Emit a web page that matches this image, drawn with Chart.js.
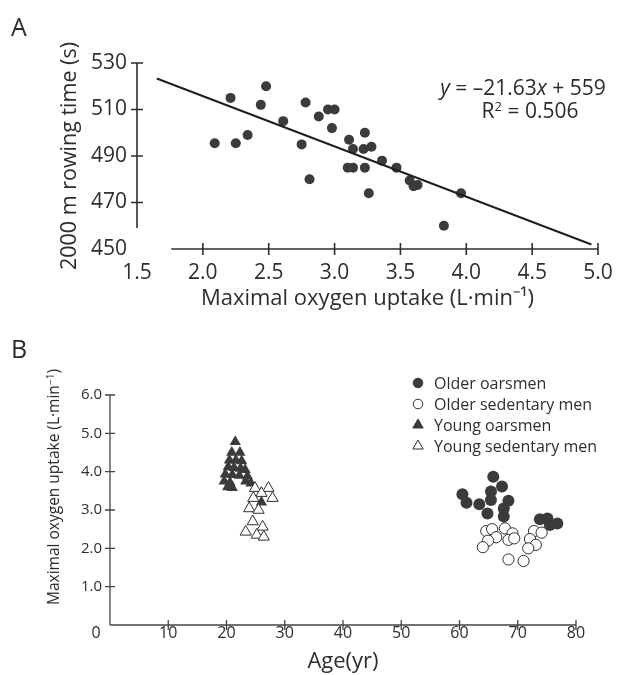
<!DOCTYPE html>
<html>
<head>
<meta charset="utf-8">
<script src="https://cdn.jsdelivr.net/npm/chart.js@4.4.1/dist/chart.umd.min.js"></script>
<style>
  html, body { margin: 0; padding: 0; background: #fff; }
  #page { position: relative; width: 625px; height: 675px; overflow: hidden;
          font-family: 'Open Sans', sans-serif; color: #2b2b2b; }
  canvas { position: absolute; left: 0; }
  #cA { top: 0; }
  #cB { top: 330px; }
  .panel { position: absolute; font-size: 25px; line-height: 1; }
  .eq { position: absolute; font-size: 21px; line-height: 1; white-space: nowrap; text-align: center; width: 240px; }
  .eq sup { font-size: 0.62em; vertical-align: 0.55em; line-height: 0; }
  .ytitle { position: absolute; width: 260px; height: 20px; line-height: 20px; text-align: center;
            font-size: 15.5px; white-space: nowrap; transform: rotate(-90deg); transform-origin: 50% 50%; }
  .ytitle sup { font-size: 0.65em; vertical-align: 0.5em; line-height: 0; }
</style>
</head>
<body>
<div id="page">
  <canvas id="cA" width="625" height="330"></canvas>
  <canvas id="cB" width="625" height="345"></canvas>
  <div class="panel" style="left:11px;top:14px">A</div>
  <div class="panel" style="left:11px;top:336px">B</div>
  <div class="eq" style="left:403px;top:77px"><i>y</i> = –21.63<i>x</i> + 559</div>
  <div class="eq" style="left:410px;top:100px">R<sup>2</sup> = 0.506</div>
  <div class="ytitle" style="left:-77px;top:477px">Maximal oxygen uptake (L·min<sup>−1</sup>)</div>
</div>
<script>
// ---- Panel A: maximal oxygen uptake vs 2000 m rowing time ----
const vo2max  = [2.09, 2.25, 2.34, 2.21, 2.48, 2.44, 2.61, 2.75, 2.81, 2.78, 2.88, 2.95, 3.00, 2.98, 3.11,
                 3.14, 3.23, 3.22, 3.28, 3.10, 3.14, 3.23, 3.26, 3.36, 3.47, 3.57, 3.60, 3.63, 3.96, 3.83];
const rowTime = [495.5, 495.5, 499, 515, 520, 512, 505, 495, 480, 513, 507, 510, 510, 502, 497,
                 493, 500, 493, 494, 485, 485, 485, 474, 488, 485, 479.5, 477, 477.5, 474, 460];
// fitted line y = -21.63x + 559
const fitSlope = -21.63;
const fitIntercept = 559;
const fitSpan = [1.65, 4.95];
const xTicksA = [2.0, 2.5, 3.0, 3.5, 4.0, 4.5, 5.0];
const yTicksA = [470, 490, 510, 530];

// ---- Panel B: maximal oxygen uptake vs age ----
const ageOlderOar = [60.5, 61.2, 63.4, 64.8, 65.8, 67.3, 65.4, 65.4, 68.4, 67.6, 67.6, 73.8, 75.1, 76.8, 75.5];
const vo2OlderOar = [3.41, 3.19, 3.15, 2.91, 3.87, 3.61, 3.48, 3.26, 3.24, 3.04, 2.83, 2.76, 2.78, 2.65, 2.61];
const ageOlderSed = [64.6, 65.6, 66.3, 64.9, 64.0, 67.8, 69.1, 68.4, 69.4, 68.4, 71.0, 72.8, 74.1, 72.1, 73.1, 71.8];
const vo2OlderSed = [2.45, 2.50, 2.29, 2.20, 2.03, 2.52, 2.39, 2.22, 2.26, 1.71, 1.67, 2.45, 2.41, 2.24, 2.09, 2.00];
const ageYoungOar = [21.5, 20.9, 22.3, 20.5, 21.6, 22.6, 20.3, 21.3, 22.4, 23.2, 19.8, 21.0, 22.2, 23.6,
                     19.6, 20.6, 23.3, 24.2, 20.2, 21.0, 26.0];
const vo2YoungOar = [4.78, 4.50, 4.50, 4.30, 4.30, 4.28, 4.12, 4.10, 4.08, 4.05, 3.93, 3.92, 3.90, 3.88,
                     3.75, 3.72, 3.75, 3.70, 3.60, 3.58, 3.20];
const ageYoungSed = [24.9, 27.2, 26.0, 27.9, 24.6, 23.9, 25.5, 24.5, 26.2, 23.3, 25.2, 26.4];
const vo2YoungSed = [3.57, 3.57, 3.44, 3.31, 3.31, 3.04, 3.00, 2.70, 2.56, 2.43, 2.35, 2.30];
const seriesNamesB = ['Older oarsmen', 'Older sedentary men', 'Young oarsmen', 'Young sedentary men'];
const xTicksB = [10, 20, 30, 40, 50, 60, 70, 80];
const yTicksB = [1, 2, 3, 4, 5, 6];

const INK = '#2e2e2e';
const DOT = '#3b3b3b';
Chart.defaults.font.family = "'Open Sans', sans-serif";
Chart.defaults.color = INK;

const pts = (xs, ys) => xs.map((v, i) => ({ x: v, y: ys[i] }));

// Detached axis lines with tick marks crossing the line
const axisDecor = {
  id: 'axisDecor',
  beforeDatasetsDraw(chart, args, o) {
    const { ctx, scales: { x, y } } = chart;
    const x0 = x.getPixelForValue(o.yAxisAt);
    const y0 = y.getPixelForValue(o.xAxisAt);
    ctx.save();
    ctx.strokeStyle = o.color;
    ctx.lineWidth = o.width;
    ctx.beginPath();
    ctx.moveTo(x0, y.getPixelForValue(o.yLine[0]));
    ctx.lineTo(x0, y.getPixelForValue(o.yLine[1]));
    ctx.moveTo(x.getPixelForValue(o.xLine[0]), y0);
    ctx.lineTo(x.getPixelForValue(o.xLine[1]), y0);
    o.yTicks.forEach(v => { const p = y.getPixelForValue(v); ctx.moveTo(x0 - o.tick, p); ctx.lineTo(x0 + o.tick, p); });
    o.xTicks.forEach(v => { const p = x.getPixelForValue(v); ctx.moveTo(p, y0 - o.tick); ctx.lineTo(p, y0 + o.tick); });
    ctx.stroke();
    if (o.originLabel) {
      ctx.fillStyle = INK;
      ctx.font = o.originLabel.font;
      ctx.textAlign = 'center';
      ctx.textBaseline = 'middle';
      ctx.fillText(o.originLabel.text, x0 + o.originLabel.dx, y0 + o.originLabel.dy);
    }
    ctx.restore();
  }
};

// Legend listing marker shapes beside the series names
function marker(ctx, style, filled, r, cx, cy) {
  ctx.beginPath();
  if (style === 'circle') {
    ctx.arc(cx, cy, r, 0, Math.PI * 2);
  } else {
    for (let k = 0; k < 3; k++) {
      const a = k * 2 * Math.PI / 3;
      const px = cx + Math.sin(a) * r, py = cy - Math.cos(a) * r;
      k ? ctx.lineTo(px, py) : ctx.moveTo(px, py);
    }
    ctx.closePath();
  }
  ctx.fillStyle = filled ? DOT : '#fff';
  ctx.fill();
  ctx.lineWidth = 1;
  ctx.strokeStyle = filled ? DOT : INK;
  ctx.stroke();
}
const sideLegend = {
  id: 'sideLegend',
  afterDraw(chart, args, o) {
    const ctx = chart.ctx;
    ctx.save();
    ctx.font = o.font;
    ctx.textBaseline = 'middle';
    ctx.textAlign = 'left';
    o.items.forEach((it, i) => {
      const cy = o.top + i * o.gap;
      marker(ctx, it.style, it.filled, it.style === 'circle' ? 4.8 : 6, o.left, cy);
      ctx.fillStyle = INK;
      ctx.fillText(it.label, o.left + 16, cy + 1);
    });
    ctx.restore();
  }
};

// ---------- Chart A ----------
new Chart(document.getElementById('cA'), {
  type: 'scatter',
  data: {
    datasets: [
      {
        data: pts(fitSpan, fitSpan.map(v => fitSlope * v + fitIntercept)),
        showLine: true, borderColor: '#1f1f1f', borderWidth: 2, pointRadius: 0, order: 0
      },
      {
        data: pts(vo2max, rowTime),
        backgroundColor: DOT, borderColor: DOT, borderWidth: 0, pointRadius: 5, order: 1
      }
    ]
  },
  options: {
    responsive: false, animation: false,
    layout: { padding: { left: 57, right: 27, top: 63, bottom: 18 } },
    plugins: {
      legend: { display: false }, tooltip: { enabled: false },
      axisDecor: { color: INK, width: 1.6, tick: 6, yAxisAt: 1.5, xAxisAt: 450,
                   yLine: [459, 530], xLine: [1.76, 5.0], xTicks: xTicksA, yTicks: yTicksA }
    },
    scales: {
      x: {
        type: 'linear', min: 1.5, max: 5.0,
        grid: { display: false, drawTicks: false }, border: { display: false },
        ticks: { stepSize: 0.5, padding: 11, font: { size: 21 }, callback: v => Number(v).toFixed(1) },
        title: { display: true, text: 'Maximal oxygen uptake (L·min⁻¹)', font: { size: 22 }, padding: 0 },
        afterFit: s => { s.height = 63; }
      },
      y: {
        min: 450, max: 530,
        grid: { display: false, drawTicks: false }, border: { display: false },
        ticks: { stepSize: 20, padding: 10, font: { size: 21 } },
        title: { display: true, text: '2000 m rowing time (s)', font: { size: 21.5 }, padding: 0 },
        afterFit: s => { s.width = 80; }
      }
    }
  },
  plugins: [axisDecor]
});

// ---------- Chart B ----------
new Chart(document.getElementById('cB'), {
  type: 'scatter',
  data: {
    datasets: [
      { label: seriesNamesB[1], data: pts(ageOlderSed, vo2OlderSed), pointStyle: 'circle',
        pointRadius: 5.6, backgroundColor: '#fff', borderColor: INK, borderWidth: 1, order: 1 },
      { label: seriesNamesB[3], data: pts(ageYoungSed, vo2YoungSed), pointStyle: 'triangle',
        pointRadius: 6.5, backgroundColor: '#fff', borderColor: INK, borderWidth: 1, order: 1 },
      { label: seriesNamesB[0], data: pts(ageOlderOar, vo2OlderOar), pointStyle: 'circle',
        pointRadius: 6, backgroundColor: DOT, borderColor: DOT, borderWidth: 0, order: 2 },
      { label: seriesNamesB[2], data: pts(ageYoungOar, vo2YoungOar), pointStyle: 'triangle',
        pointRadius: 6.5, backgroundColor: DOT, borderColor: DOT, borderWidth: 0, order: 2 }
    ]
  },
  options: {
    responsive: false, animation: false,
    layout: { padding: { left: 44, right: 49, top: 65, bottom: 0 } },
    plugins: {
      legend: { display: false }, tooltip: { enabled: false },
      axisDecor: { color: '#444', width: 1.3, tick: 5, yAxisAt: 0, xAxisAt: 0,
                   yLine: [0, 6], xLine: [0, 80], xTicks: xTicksB, yTicks: yTicksB,
                   originLabel: { text: '0', font: "16px 'Open Sans'", dx: -14, dy: 8 } },
      sideLegend: {
        left: 418, top: 53, gap: 21, font: "16px 'Open Sans'",
        items: [
          { label: seriesNamesB[0], style: 'circle', filled: true },
          { label: seriesNamesB[1], style: 'circle', filled: false },
          { label: seriesNamesB[2], style: 'triangle', filled: true },
          { label: seriesNamesB[3], style: 'triangle', filled: false }
        ]
      }
    },
    scales: {
      x: {
        type: 'linear', min: 0, max: 80,
        grid: { display: false, drawTicks: false }, border: { display: false },
        ticks: { stepSize: 10, padding: 0, font: { size: 16, lineHeight: 1 }, callback: v => (v === 0 ? '' : String(v)) },
        title: { display: true, text: 'Age(yr)', font: { size: 22 }, padding: 0 },
        afterFit: s => { s.height = 50; }
      },
      y: {
        min: 0, max: 6,
        grid: { display: false, drawTicks: false }, border: { display: false },
        ticks: { stepSize: 1, padding: 8, font: { size: 15 }, callback: v => (v === 0 ? '' : Number(v).toFixed(1)) },
        afterFit: s => { s.width = 66; }
      }
    }
  },
  plugins: [axisDecor, sideLegend]
});
</script>
</body>
</html>
